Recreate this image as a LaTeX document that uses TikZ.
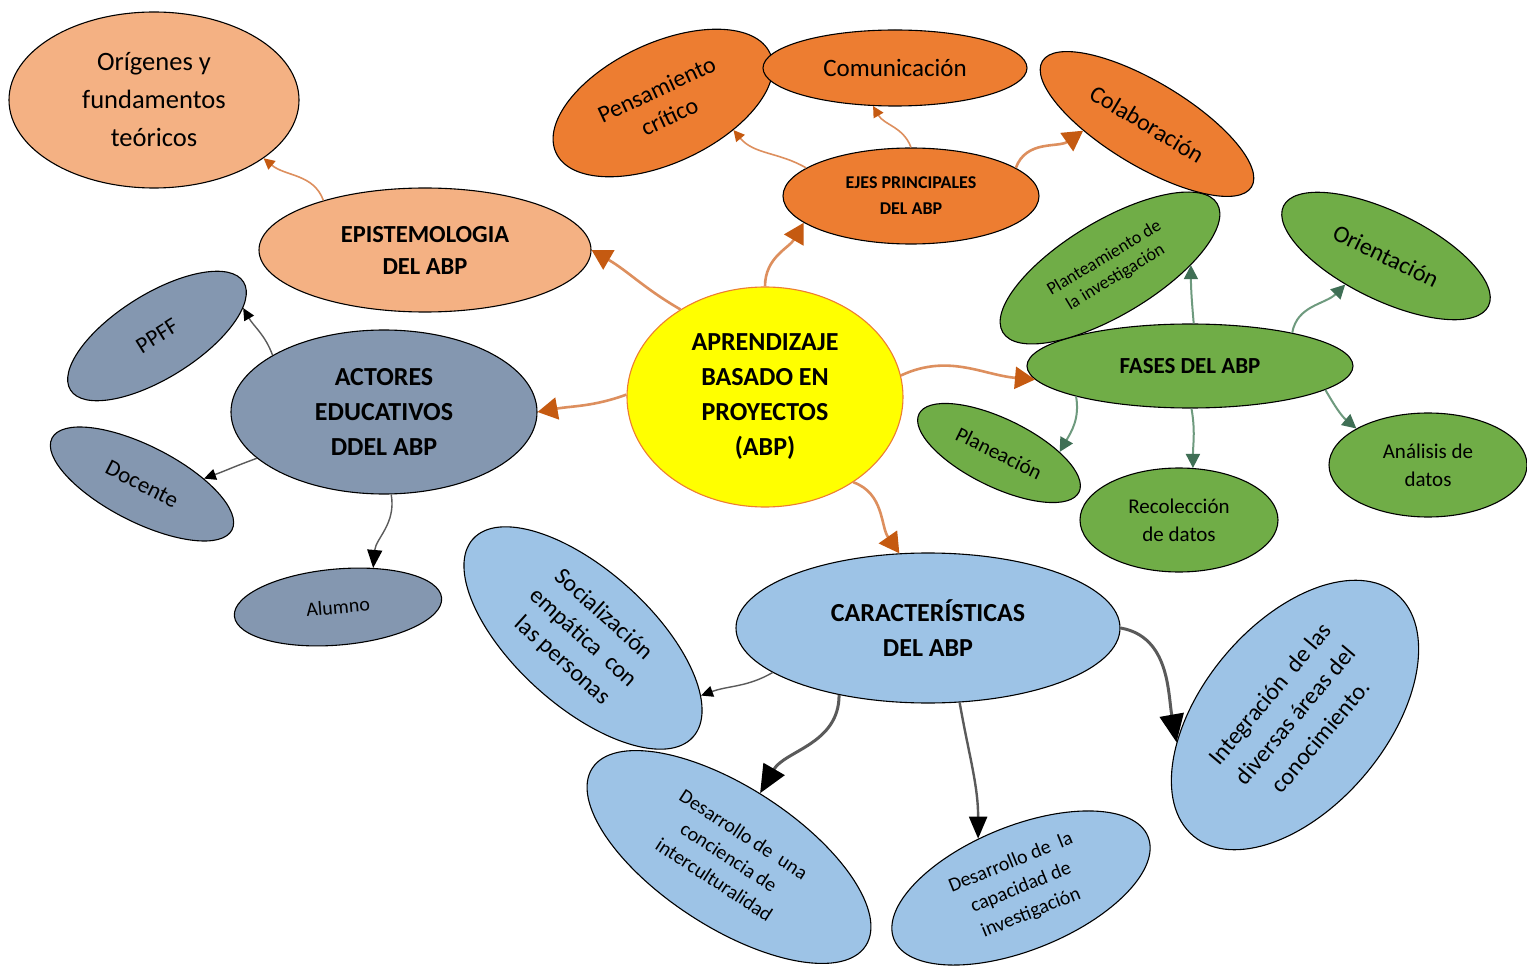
\documentclass[tikz,border=0pt]{standalone}
\usepackage{fontspec}
\setmainfont{Carlito}
\usetikzlibrary{shapes.geometric,arrows.meta}
\definecolor{lor}{HTML}{F4B183}
\definecolor{org}{HTML}{ED7D31}
\definecolor{ylw}{HTML}{FFFF00}
\definecolor{sla}{HTML}{8497B0}
\definecolor{grn}{HTML}{70AD47}
\definecolor{lbl}{HTML}{9DC3E6}
\definecolor{olin}{HTML}{DD8F5E}
\definecolor{ohead}{HTML}{C55A11}
\definecolor{glin}{HTML}{6E9A7E}
\definecolor{ghead}{HTML}{3F6F55}
\definecolor{klin}{HTML}{5A5A5A}
\begin{document}
\begin{tikzpicture}[x=1pt,y=1pt,
 bub/.style={ellipse,draw=black,line width=1.1pt,inner sep=0pt,align=center},
 oconn/.style={draw=olin,line width=2.6pt,-{Triangle[length=20pt,width=22pt,color=ohead]}},
 osmall/.style={draw=olin,line width=1.6pt,-{Triangle[length=11pt,width=11pt,color=ohead]}},
 gconn/.style={draw=glin,line width=2pt,-{Triangle[length=14pt,width=14pt,color=ghead]}},
 kconn/.style={draw=klin,line width=1.4pt,-{Triangle[length=12pt,width=11pt,color=black]}},
 kbig/.style={draw=klin,line width=3pt,-{Triangle[length=28pt,width=24pt,color=black]}},
]
\useasboundingbox (0,0) rectangle (1527,-968);
\fill[white] (0,0) rectangle (1527,-968);

% nodes
\node[bub,fill=lor,minimum width=290pt,minimum height=176pt,font=\fontsize{26.5}{38}\selectfont] (orig) at (154,-100) {Orígenes y\\fundamentos\\teóricos};
\node[bub,fill=lor,minimum width=332pt,minimum height=124pt,font=\bfseries\fontsize{24.5}{32}\selectfont] (epi) at (425,-250) {EPISTEMOLOGIA\\DEL ABP};
\node[bub,fill=org,rotate=25,minimum width=236pt,minimum height=120pt,font=\fontsize{24}{30}\selectfont] (pens) at (663,-103) {Pensamiento\\crítico};
\node[bub,fill=org,minimum width=264pt,minimum height=76pt,font=\fontsize{25}{28}\selectfont] (com) at (895,-68) {Comunicación};
\node[bub,fill=org,rotate=-31,minimum width=244pt,minimum height=84pt,font=\fontsize{24}{28}\selectfont] (colab) at (1147,-124) {Colaboración};
\node[bub,fill=org,minimum width=256pt,minimum height=96pt,font=\bfseries\fontsize{18}{26}\selectfont] (ejes) at (911,-196) {EJES PRINCIPALES\\DEL ABP};
\node[bub,draw=org,fill=ylw,minimum width=276pt,minimum height=220pt,font=\bfseries\fontsize{26}{35}\selectfont] (c) at (765,-397) {APRENDIZAJE\\BASADO EN\\PROYECTOS\\(ABP)};
\node[bub,fill=sla,minimum width=306pt,minimum height=164pt,font=\bfseries\fontsize{26}{35}\selectfont] (act) at (384,-412) {ACTORES\\EDUCATIVOS\\DDEL ABP};
\node[bub,fill=sla,rotate=32,minimum width=204pt,minimum height=84pt,font=\fontsize{23}{25}\selectfont] (ppff) at (157,-336) {PPFF};
\node[bub,fill=sla,rotate=-27,minimum width=202pt,minimum height=76pt,font=\fontsize{23}{25}\selectfont] (doc) at (142,-484) {Docente};
\node[bub,fill=sla,rotate=5,minimum width=208pt,minimum height=76pt,font=\fontsize{20}{22}\selectfont] (alu) at (338,-607) {Alumno};
\node[bub,fill=grn,minimum width=326pt,minimum height=84pt,font=\bfseries\fontsize{23}{26}\selectfont] (fases) at (1190,-366) {FASES DEL ABP};
\node[bub,fill=grn,rotate=31,minimum width=250pt,minimum height=94pt,font=\fontsize{18}{22}\selectfont] (plant) at (1110,-268) {Planteamiento de\\la investigación};
\node[bub,fill=grn,rotate=-26,minimum width=228pt,minimum height=88pt,font=\fontsize{24}{28}\selectfont] (orient) at (1386,-256) {Orientación};
\node[bub,fill=grn,rotate=-26,minimum width=178pt,minimum height=68pt,font=\fontsize{21}{24}\selectfont] (plan) at (999,-453) {Planeación};
\node[bub,fill=grn,minimum width=198pt,minimum height=104pt,font=\fontsize{21}{28}\selectfont] (recol) at (1179,-520) {Recolección\\de datos};
\node[bub,fill=grn,minimum width=198pt,minimum height=104pt,font=\fontsize{21}{28}\selectfont] (anal) at (1428,-465) {Análisis de\\datos};
\node[bub,fill=lbl,minimum width=384pt,minimum height=150pt,font=\bfseries\fontsize{26}{35}\selectfont] (car) at (928,-628) {CARACTERÍSTICAS\\DEL ABP};
\node[bub,fill=lbl,rotate=-42,minimum width=296pt,minimum height=136pt,font=\fontsize{24}{31}\selectfont] (soc) at (583,-638) {Socialización\\empática\ \ con\\las personas};
\node[bub,fill=lbl,rotate=-33,minimum width=326pt,minimum height=140pt,font=\fontsize{20}{27}\selectfont] (des1) at (729,-857) {Desarrollo de\ \ una\\conciencia de\\interculturalidad};
\node[bub,fill=lbl,rotate=22,minimum width=274pt,minimum height=124pt,font=\fontsize{20}{27}\selectfont] (des2) at (1021,-888) {Desarrollo de\ \ la\\capacidad de\\investigación};
\node[bub,fill=lbl,rotate=50,minimum width=316pt,minimum height=184pt,font=\fontsize{24}{33}\selectfont] (int) at (1295,-715) {Integración\ \ de las\\diversas áreas del\\conocimiento.};

% orange connectors
\draw[oconn] (c.134) to[out=150,in=-30] (epi.east);
\draw[oconn] (c.north) to[out=90,in=-120] (ejes.194);
\draw[oconn] (c.179) to[out=200,in=10] (act.east);
\draw[oconn] (c.9) to[out=25,in=175] (fases.185);
\draw[oconn] (c.-44) to[out=-20,in=125] (car.111);
\draw[osmall] (epi.154) to[out=110,in=-40] (orig.-28);
\draw[osmall] (ejes.165) to[out=150,in=-50] (pens.-46);
\draw[osmall] (ejes.north) to[out=110,in=-60] (com.-120);
\draw[oconn] (ejes.15) to[out=70,in=-145] (colab.217);

% green connectors
\draw[gconn] (fases.85) to[out=95,in=-90] (plant.-29);
\draw[gconn] (fases.18) to[out=80,in=-135] (orient.241);
\draw[gconn] (fases.195) to[out=-80,in=60] (plan.27);
\draw[gconn] (fases.-88) to[out=-80,in=90] (recol.75);
\draw[gconn] (fases.-10) to[out=-60,in=140] (anal.153);

% black connectors
\draw[kconn] (act.153) to[out=110,in=-60] (ppff.-14);
\draw[kconn] (act.200) to[out=200,in=20] (doc.32);
\draw[kconn,-{Triangle[length=18pt,width=15pt,color=black]}] (act.-85) to[out=-80,in=85] (alu.43);
\draw[kconn] (car.196) to[out=210,in=20] (soc.16);
\draw[kbig] (car.217) to[out=-90,in=60] (des1.97);
\draw[kbig,line width=2.4pt,-{Triangle[length=22pt,width=18pt,color=black]}] (car.-67) to[out=-80,in=90] (des2.109);
\draw[kbig] (car.east) to[out=-10,in=100] (int.143);
\end{tikzpicture}
\end{document}
